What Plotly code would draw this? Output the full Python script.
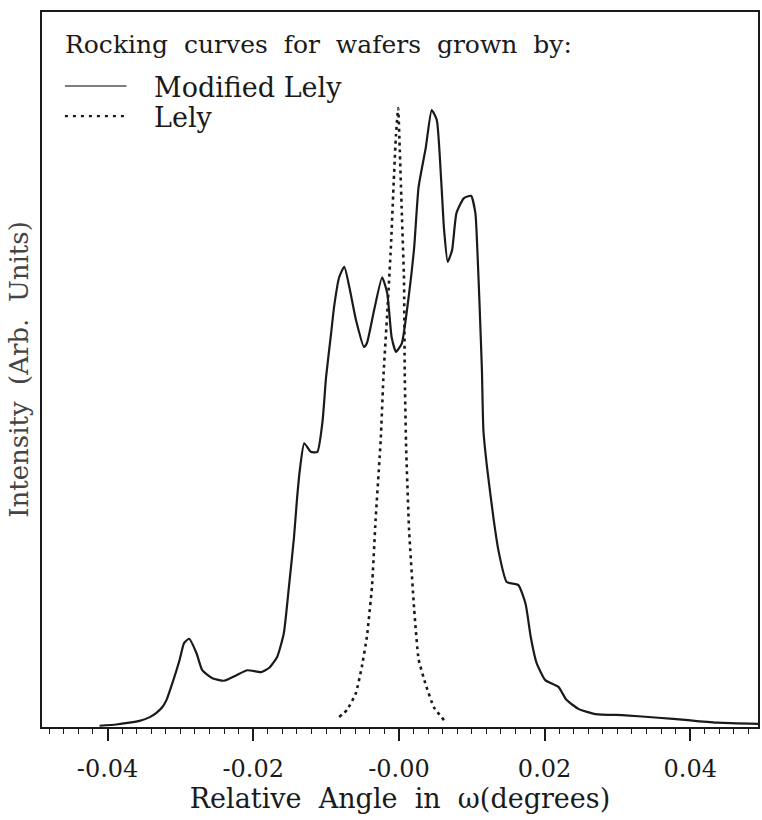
import plotly.graph_objects as go

# Modified Lely rocking curve (angle in degrees, intensity arb. units)
mod_angle = [-0.0411, -0.0388, -0.0370, -0.0356, -0.0342, -0.0333, -0.0325, -0.0319, -0.0311, -0.0301,
             -0.0295, -0.0288, -0.0278, -0.0270, -0.0256, -0.0240, -0.0223, -0.0208, -0.0189, -0.0178,
             -0.0167, -0.0158, -0.0151, -0.0144, -0.0140, -0.0136, -0.0130, -0.0121, -0.0112, -0.0105,
             -0.0100, -0.0093, -0.0089, -0.0082, -0.0075, -0.0068, -0.0059, -0.0048, -0.0044, -0.0034,
             -0.0023, -0.0016, -0.0010, -0.0004, 0.0004, 0.0014, 0.0021, 0.0027, 0.0037, 0.0045,
             0.0052, 0.0058, 0.0062, 0.0067, 0.0073, 0.0079, 0.0089, 0.0099, 0.0105, 0.0108,
             0.0111, 0.0114, 0.0116, 0.0121, 0.0130, 0.0137, 0.0148, 0.0164, 0.0174, 0.0181,
             0.0189, 0.0201, 0.0219, 0.0230, 0.0247, 0.0270, 0.0311, 0.0356, 0.0397, 0.0438, 0.0493]
mod_intensity = [0.2, 0.4, 0.7, 1.0, 1.6, 2.3, 3.2, 4.4, 7.1, 10.9,
                 13.6, 14.3, 12.0, 9.2, 7.9, 7.5, 8.4, 9.2, 8.9, 9.6,
                 11.4, 15.2, 22.7, 30.8, 36.8, 41.7, 46.0, 44.6, 44.6, 49.4,
                 56.7, 63.9, 68.1, 72.9, 74.6, 71.3, 66.0, 61.6, 62.2, 67.6,
                 72.9, 70.3, 63.2, 60.8, 62.2, 70.3, 77.8, 87.5, 94.0, 100.0,
                 98.4, 88.7, 80.6, 75.4, 77.3, 83.3, 85.7, 86.1, 83.3, 76.5,
                 67.6, 57.7, 48.1, 42.1, 33.7, 28.4, 23.5, 23.0, 19.9, 14.6,
                 10.4, 7.6, 6.5, 4.4, 2.9, 2.1, 1.9, 1.5, 1.1, 0.7, 0.5]

# Lely rocking curve
lely_angle = [-0.0082, -0.0071, -0.0059, -0.0051, -0.0044, -0.0037, -0.0032, -0.0025, -0.0021, -0.0016,
              -0.0011, -0.0007, -0.0004, -0.0001, 0.0001, 0.0004, 0.0007, 0.0008, 0.0010, 0.0014,
              0.0021, 0.0027, 0.0037, 0.0048, 0.0062]
lely_intensity = [1.6, 2.8, 5.5, 9.7, 14.6, 22.7, 33.6, 46.5, 57.4, 67.1,
                  77.8, 88.7, 96.0, 100.3, 94.2, 83.3, 72.5, 57.4, 44.9, 31.9,
                  19.0, 11.0, 6.8, 3.2, 1.1]

tick_vals = [-0.04, -0.02, 0.0, 0.02, 0.04]
tick_text = ["-0.04", "-0.02", "-0.00", "0.02", "0.04"]

NB = "\u00a0"
legend_title = f"Rocking{NB}{NB}curves{NB}{NB}for{NB}{NB}wafers{NB}{NB}grown{NB}{NB}by:"
series_names = ["Modified Lely", "Lely"]
x_title = f"Relative{NB}{NB}Angle{NB}{NB}in{NB}{NB}ω(degrees)"
y_title = f"Intensity{NB}{NB}(Arb.{NB}{NB}Units)"

INK = "#1a1a1a"
FONT = "DejaVu Serif"

fig = go.Figure()
fig.add_trace(go.Scatter(x=mod_angle, y=mod_intensity, mode="lines", name=series_names[0],
                         line=dict(color=INK, width=2.2, shape="spline", smoothing=0.5),
                         showlegend=False))
fig.add_trace(go.Scatter(x=lely_angle, y=lely_intensity, mode="lines", name=series_names[1],
                         line=dict(color=INK, width=2.6, dash="3px,4px", shape="spline", smoothing=0.4),
                         showlegend=False))

# legend drawn inside the plot
fig.add_annotation(xref="paper", yref="paper", x=0.029, y=0.954, xanchor="left", yanchor="middle",
                   text=legend_title, showarrow=False, font=dict(family=FONT, size=25, color=INK))
fig.add_annotation(xref="paper", yref="paper", x=0.153, y=0.894, xanchor="left", yanchor="middle",
                   text=series_names[0], showarrow=False, font=dict(family=FONT, size=27, color=INK))
fig.add_annotation(xref="paper", yref="paper", x=0.153, y=0.852, xanchor="left", yanchor="middle",
                   text=series_names[1], showarrow=False, font=dict(family=FONT, size=27, color=INK))
fig.add_shape(type="line", xref="paper", yref="paper", x0=0.032, x1=0.118, y0=0.8965, y1=0.8965,
              line=dict(color="#555", width=1.3))
fig.add_shape(type="line", xref="paper", yref="paper", x0=0.032, x1=0.118, y0=0.8545, y1=0.8545,
              line=dict(color=INK, width=2.2, dash="3px,5px"))

fig.update_layout(
    width=762, height=820,
    margin=dict(l=42, r=2, t=12, b=93),
    paper_bgcolor="white", plot_bgcolor="white",
    font=dict(family=FONT, color=INK),
)
fig.update_xaxes(
    range=[-0.0490, 0.0493],
    tickmode="array", tickvals=tick_vals, ticktext=tick_text,
    ticks="outside", ticklen=12, tickwidth=1.5, tickcolor=INK,
    minor=dict(dtick=0.002, tick0=0, ticks="outside", ticklen=5, tickwidth=1.3, tickcolor=INK),
    ticklabelstandoff=7,
    tickfont=dict(family=FONT, size=24, color=INK),
    showline=True, linecolor=INK, linewidth=1.8, mirror=True,
    showgrid=False, zeroline=False,
    title=dict(text=x_title, font=dict(family=FONT, size=27, color=INK), standoff=6),
)
fig.update_yaxes(
    range=[0, 115.9],
    showticklabels=False, ticks="",
    showline=True, linecolor=INK, linewidth=1.8, mirror=True,
    showgrid=False, zeroline=False,
    title=dict(text=y_title, font=dict(family=FONT, size=26, color="#444"), standoff=4),
)

fig.write_html("out.html")
